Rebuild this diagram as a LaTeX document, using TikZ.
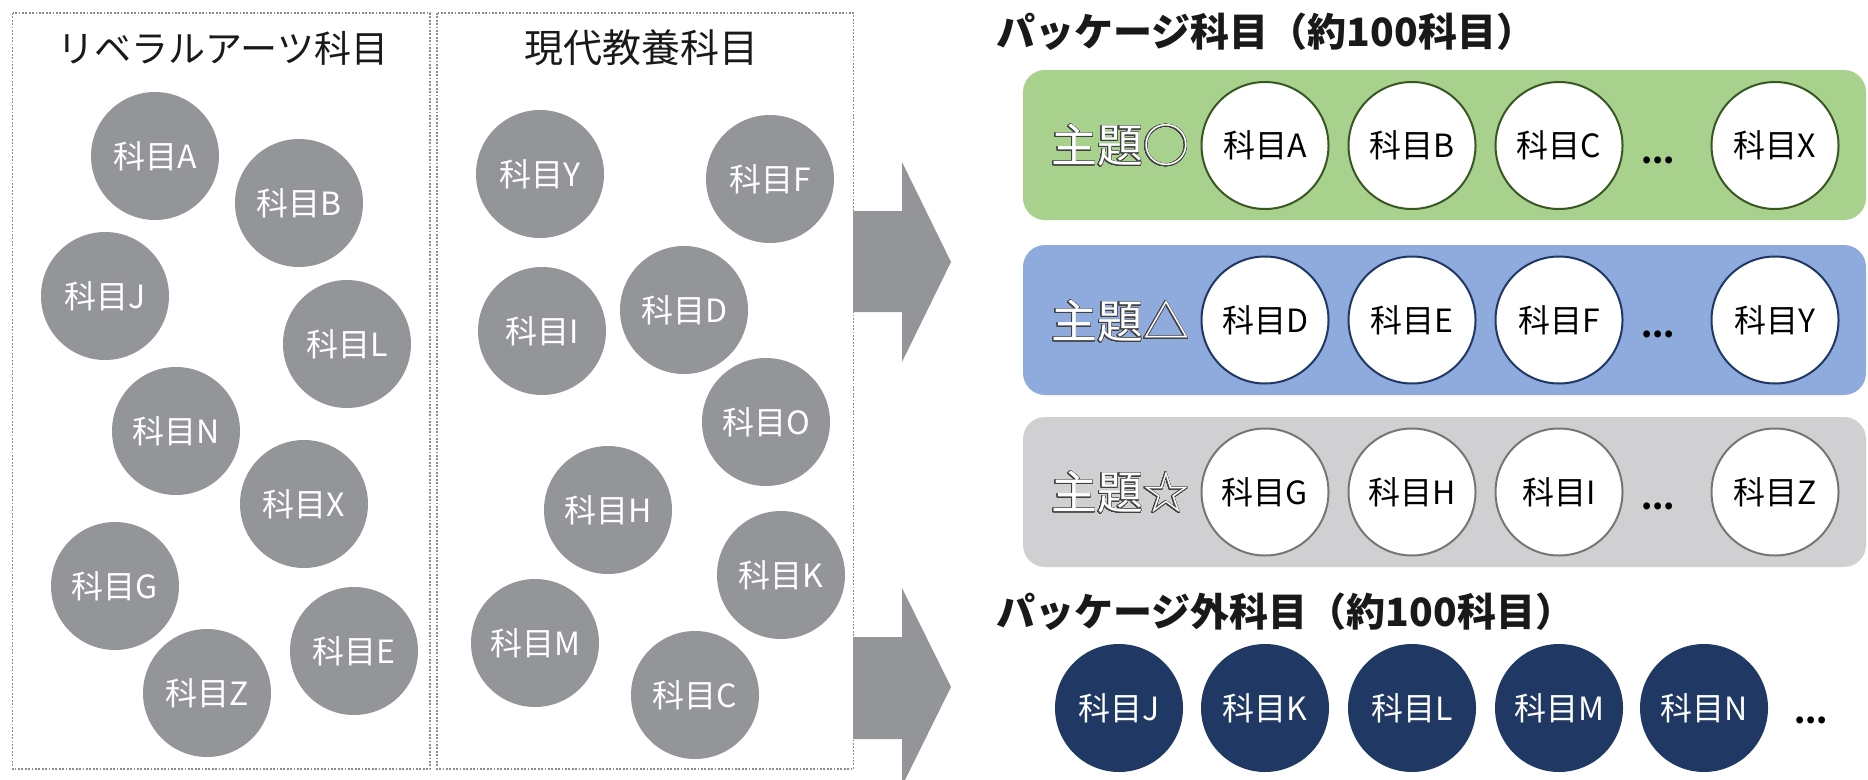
\documentclass[tikz,border=0pt]{standalone}
\usepackage{fontspec}
\usepackage{contour}
\setmainfont{Noto Sans CJK JP}
\contourlength{0.8pt}
\contournumber{32}
\definecolor{bubgray}{HTML}{939598}
\definecolor{dotgray}{HTML}{8C8C8C}
\definecolor{greenbg}{HTML}{A9D18E}
\definecolor{greenln}{HTML}{385723}
\definecolor{bluebg}{HTML}{8FAADC}
\definecolor{blueln}{HTML}{1F3864}
\definecolor{graybg}{HTML}{D0D0D2}
\definecolor{grayln}{HTML}{767676}
\definecolor{navy}{HTML}{203864}
\definecolor{outl}{HTML}{404040}
\tikzset{
  bubfont/.style={font=\fontsize{32}{32}\selectfont},
  lbub/.style={circle, fill=bubgray, minimum size=128pt, inner sep=0pt, text=white, bubfont},
  wbub/.style={circle, fill=white, draw=#1, line width=2pt, minimum size=127pt, inner sep=0pt, text=black, bubfont},
  nbub/.style={circle, fill=navy, minimum size=128pt, inner sep=0pt, text=white, bubfont},
  dotbox/.style={draw=dotgray, line width=1.8pt, dash pattern=on 1.8pt off 1.6pt},
  rowbox/.style={rounded corners=22pt},
  bigarrow/.style={fill=bubgray},
  coltitle/.style={font=\fontsize{37}{37}\selectfont, text=black!90},
  secttitle/.style={font=\fontsize{39}{39}\selectfont\bfseries, text=black!90, anchor=west},
  theme/.style={font=\fontsize{46}{46}\selectfont, text=white},
  dots/.style={font=\fontsize{32}{32}\selectfont\bfseries, text=black}
}
\begin{document}
\begin{tikzpicture}[x=1pt,y=-1pt]
\useasboundingbox (0,0) rectangle (1868,779);
\clip (0,0) rectangle (1868,779);
% left boxes
\draw[dotbox] (12.5,13) rectangle (430,769);
\draw[dotbox] (437,13) rectangle (853.5,769);
\node[coltitle] (t1) at (223,48) {リベラルアーツ科目};
\node[coltitle, font=\fontsize{39}{39}\selectfont] (t2) at (641,48) {現代教養科目};
% liberal arts bubbles
\node[lbub] (la) at (155,156) {科目A};
\node[lbub] (lb) at (299,203) {科目B};
\node[lbub] (lj) at (105,296) {科目J};
\node[lbub] (ll) at (347,344) {科目L};
\node[lbub] (ln) at (176,431) {科目N};
\node[lbub] (lx) at (304,504) {科目X};
\node[lbub] (lg) at (115,586) {科目G};
\node[lbub] (le) at (354,651) {科目E};
\node[lbub] (lz) at (207,693) {科目Z};
% modern bubbles
\node[lbub] (my) at (540,174) {科目Y};
\node[lbub] (mf) at (770,179) {科目F};
\node[lbub] (mi) at (542,331) {科目I};
\node[lbub] (md) at (684,310) {科目D};
\node[lbub] (mo) at (766,422) {科目O};
\node[lbub] (mh) at (608,510) {科目H};
\node[lbub] (mk) at (781,575) {科目K};
\node[lbub] (mm) at (535,643) {科目M};
\node[lbub] (mc) at (695,695) {科目C};
% arrows
\fill[bigarrow] (853,211) -- (902,211) -- (902,162) -- (951,262) -- (902,362) -- (902,312) -- (853,312) -- cycle;
\fill[bigarrow] (853,637) -- (902,637) -- (902,588) -- (951,687) -- (902,786) -- (902,739) -- (853,739) -- cycle;
% package section
\node[secttitle] (s1) at (993,32) {パッケージ科目（約100科目）};
\fill[greenbg, rowbox] (1023,70) rectangle (1866,220);
\fill[bluebg, rowbox] (1023,245) rectangle (1866,395);
\fill[graybg, rowbox] (1023,417) rectangle (1866,567);
\node[theme] (th1) at (1120,146) {\contour{outl}{主題○}};
\node[theme] (th2) at (1120,322) {\contour{outl}{主題△}};
\node[theme] (th3) at (1120,493) {\contour{outl}{主題☆}};
\node[wbub=greenln] (pa) at (1265,145.5) {科目A};
\node[wbub=greenln] (pb) at (1412,145.5) {科目B};
\node[wbub=greenln] (pc) at (1559,145.5) {科目C};
\node[dots] (d1) at (1658,160) {...};
\node[wbub=greenln] (px) at (1775,145.5) {科目X};
\node[wbub=blueln] (pd) at (1265,320) {科目D};
\node[wbub=blueln] (pe) at (1412,320) {科目E};
\node[wbub=blueln] (pf) at (1559,320) {科目F};
\node[dots] (d2) at (1658,334) {...};
\node[wbub=blueln] (py) at (1775,320) {科目Y};
\node[wbub=grayln] (pg) at (1265,492) {科目G};
\node[wbub=grayln] (ph) at (1412,492) {科目H};
\node[wbub=grayln] (pi) at (1559,492) {科目I};
\node[dots] (d3) at (1658,506) {...};
\node[wbub=grayln] (pz) at (1775,492) {科目Z};
% non-package section
\node[secttitle] (s2) at (993,612) {パッケージ外科目（約100科目）};
\node[nbub] (nj) at (1119,708) {科目J};
\node[nbub] (nk) at (1265,708) {科目K};
\node[nbub] (nl) at (1412,708) {科目L};
\node[nbub] (nm) at (1559,708) {科目M};
\node[nbub] (nn) at (1704,708) {科目N};
\node[dots] (d4) at (1811,720) {...};
\end{tikzpicture}
\end{document}
